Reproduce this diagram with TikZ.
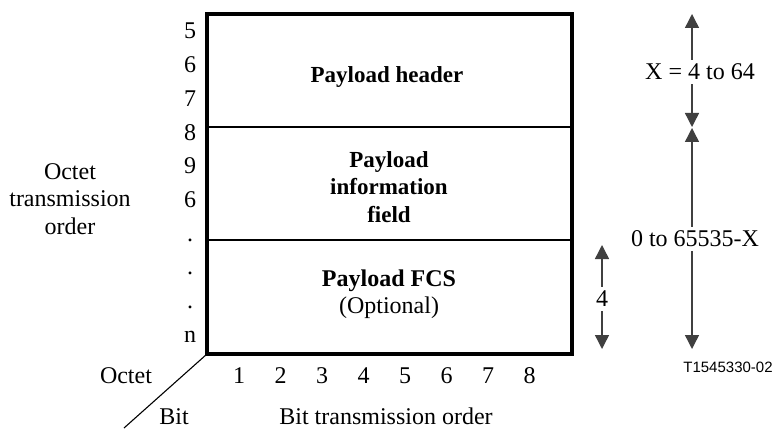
\documentclass[tikz,border=0pt]{standalone}
\usepackage{fontspec}
\setmainfont{Liberation Serif}
\newfontfamily\labelsans{Liberation Sans}
\usetikzlibrary{arrows.meta}
\begin{document}
\begin{tikzpicture}[x=1pt,y=-1pt,
  txt/.style={font=\fontsize{24}{27.5}\selectfont, inner sep=0pt, align=center},
  bold/.style={txt, font=\fontsize{23}{27.5}\selectfont\bfseries},
  frame/.style={line width=3.2pt},
  divider/.style={line width=1.2pt},
  dimline/.style={line width=1.4pt, draw=black!75, -{Triangle[length=14pt,width=14pt]}},
  dimlab/.style={txt, inner sep=4pt},
]
\useasboundingbox (0,0) rectangle (778,430);

% frame corners and field boundaries
\coordinate (tl) at (207,14);
\coordinate (br) at (572,354);
\coordinate (bl) at (207,354);
\coordinate (h1l) at (207,127);
\coordinate (h1r) at (572,127);
\coordinate (h2l) at (207,240);
\coordinate (h2r) at (572,240);
\coordinate (axis) at (124,428);

\draw[divider] (h1l) -- (h1r);
\draw[divider] (h2l) -- (h2r);
\draw[frame] (tl) rectangle (br);
\draw[line width=1.1pt] (bl) -- (axis);

% field names
\node[bold, anchor=base] (hdr) at (387,83) {Payload header};
\node[bold] (info) at (389,187) {Payload\\information\\field};
\node[txt] (fcs) at (389,294) {\textbf{Payload FCS}\\(Optional)};

% octet numbers
\foreach \lab [count=\i] in {5,6,7,8,9,6,.,.,.,n}
  \node[txt, anchor=base] (oct\i) at (190,{39+33.7*(\i-1)}) {\lab};

\node[txt] (octord) at (70,199) {Octet\\transmission\\order};

% bit numbers
\foreach \b in {1,...,8}
  \node[txt, anchor=base] (bit\b) at ({197.5+41.5*\b},383) {\b};

\node[txt, anchor=base] (octetlab) at (126,383) {Octet};
\node[txt, anchor=base] (bitlab) at (174,424.5) {Bit};
\node[txt, anchor=base] (bitord) at (386,424.5) {Bit transmission order};

% dimension arrows
\coordinate (xtop) at (692,14);
\coordinate (xbot) at (692,127);
\node[dimlab] (xlab) at (700,72) {X = 4 to 64};
\draw[dimline] (xlab.north -| xtop) -- (xtop);
\draw[dimline] (xlab.south -| xbot) -- (xbot);

\coordinate (ptop) at (692,128);
\coordinate (pbot) at (692,349);
\node[dimlab] (plab) at (695,239) {0 to 65535-X};
\draw[dimline] (plab.north -| ptop) -- (ptop);
\draw[dimline] (plab.south -| pbot) -- (pbot);

\coordinate (ftop) at (602,245);
\coordinate (fbot) at (602,349);
\node[dimlab] (flab) at (602,299) {4};
\draw[dimline] (flab.north -| ftop) -- (ftop);
\draw[dimline] (flab.south -| fbot) -- (fbot);

\node[font=\labelsans\fontsize{15}{18}\selectfont, inner sep=0pt] (ref) at (728,367) {T1545330-02};
\end{tikzpicture}
\end{document}
